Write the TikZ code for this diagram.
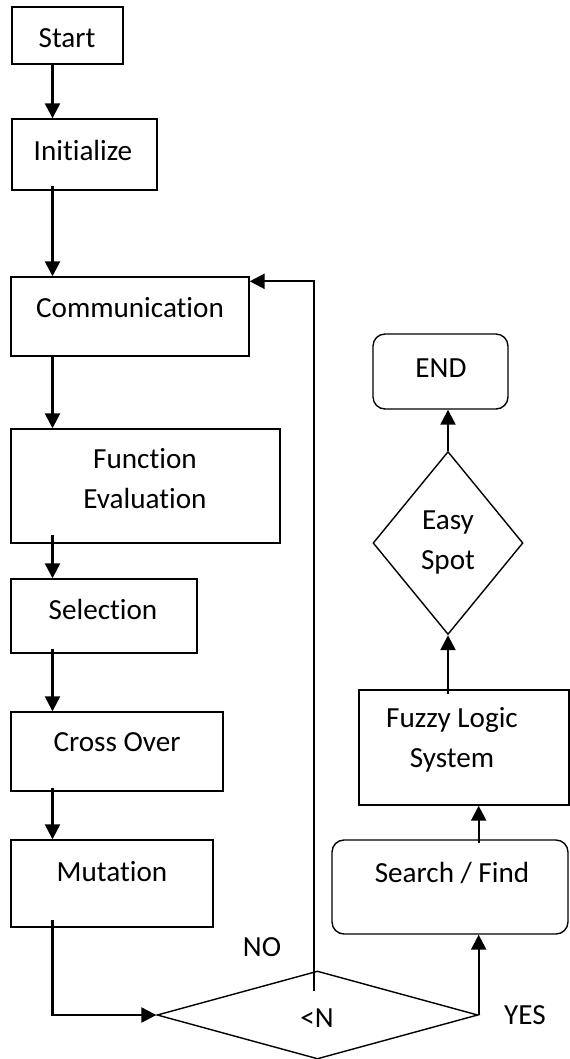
\documentclass[tikz,border=0pt]{standalone}
\usepackage{fontspec}
\setmainfont{Carlito}[Ligatures={NoCommon,NoContextual}]
\usetikzlibrary{arrows.meta,positioning,shapes.geometric,calc}

\begin{document}
\begin{tikzpicture}[
    x=0.02cm, y=-0.02cm,
    stepbox/.style={rectangle, draw, line width=0.8pt, inner sep=0pt},
    roundbox/.style={stepbox, rounded corners=0.24cm},
    decision/.style={diamond, draw, line width=0.8pt, inner sep=0pt},
    txt/.style={font=\fontsize{16.6}{22.8}\selectfont, align=center, inner sep=0pt},
    flow/.style={line width=1.3pt, -{Triangle[length=0.3cm,width=0.3cm]}},
    >=stealth
  ]
    \useasboundingbox (0,0) rectangle (570,1059);

    % Left column boxes
    \node[stepbox, minimum width=2.22cm, minimum height=1.14cm] (start) at (67.5,35.5) {};
    \node[txt] (start-t) at (67,38) {Start};
    \node[stepbox, minimum width=2.9cm, minimum height=1.42cm] (init) at (84.5,154.5) {};
    \node[txt] (init-t) at (83,150) {Initialize};
    \node[stepbox, minimum width=4.76cm, minimum height=1.58cm] (comm) at (130,316.5) {};
    \node[txt] (comm-t) at (130,308) {Communication};
    \node[stepbox, minimum width=5.38cm, minimum height=2.28cm] (feval) at (145.5,486) {};
    \node[txt] (feval-t) at (145,479) {Function\\Evaluation};
    \node[stepbox, minimum width=3.72cm, minimum height=1.48cm] (sel) at (104,616) {};
    \node[txt] (sel-t) at (103,609) {Selection};
    \node[stepbox, minimum width=4.24cm, minimum height=1.58cm] (cross) at (117,751.5) {};
    \node[txt] (cross-t) at (117,742) {Cross Over};
    \node[stepbox, minimum width=4.04cm, minimum height=1.74cm] (mut) at (112,883.5) {};
    \node[txt] (mut-t) at (112,872) {Mutation};

    % Test
    \node[decision, minimum width=6.42cm, minimum height=1.76cm] (cond) at (317.5,1015) {};
    \node[txt] (cond-t) at (317,1018) {<N};

    % Right column
    \node[roundbox, minimum width=4.72cm, minimum height=1.88cm] (search) at (450,887) {};
    \node[txt] (search-t) at (452,873) {Search / Find};
    \node[stepbox, minimum width=4.2cm, minimum height=2.3cm] (fuzzy) at (464,747.5) {};
    \node[txt] (fuzzy-t) at (452,739.5) {Fuzzy Logic\\System};
    \node[decision, minimum width=3.0cm, minimum height=3.66cm] (easy) at (448,543) {};
    \node[txt] (easy-t) at (448,542.5) {Easy\\Spot};
    \node[roundbox, minimum width=2.7cm, minimum height=1.5cm] (endb) at (440.5,371.5) {};
    \node[txt] (endb-t) at (441,368) {END};

    % Branch labels
    \node[txt] (no) at (262,947) {NO};
    \node[txt] (yes) at (525,1015) {YES};

    % Arrows
    \coordinate (trunk) at (52.5,0);
    \draw[flow] (start.south -| trunk) -- (init.north -| trunk);
    \draw[flow] ([yshift=0.1cm]init.south -| trunk) -- (comm.north -| trunk);
    \draw[flow] (comm.south -| trunk) -- (feval.north -| trunk);
    \draw[flow] ([yshift=0.18cm]feval.south -| trunk) -- (sel.north -| trunk);
    \draw[flow] ([yshift=0.1cm]sel.south -| trunk) -- (cross.north -| trunk);
    \draw[flow] ([yshift=0.08cm]cross.south -| trunk) -- (mut.north -| trunk);
    \draw[flow] ([yshift=0.16cm]mut.south -| trunk) |- (cond.west);
    \draw[flow] ([xshift=-0.07cm,yshift=-0.42cm]cond.north) |- ([yshift=-0.1cm]comm.north east);
    \draw[flow] (cond.east) -- (cond.east |- search.south);
    \draw[flow] ([yshift=-0.08cm]search.north -| cond.east) -- (fuzzy.south -| cond.east);
    \draw[flow] ([yshift=-0.1cm]fuzzy.north -| easy.south) -- (easy.south);
    \draw[flow] (easy.north) -- (endb.south -| easy.north);
  \end{tikzpicture}
\end{document}
